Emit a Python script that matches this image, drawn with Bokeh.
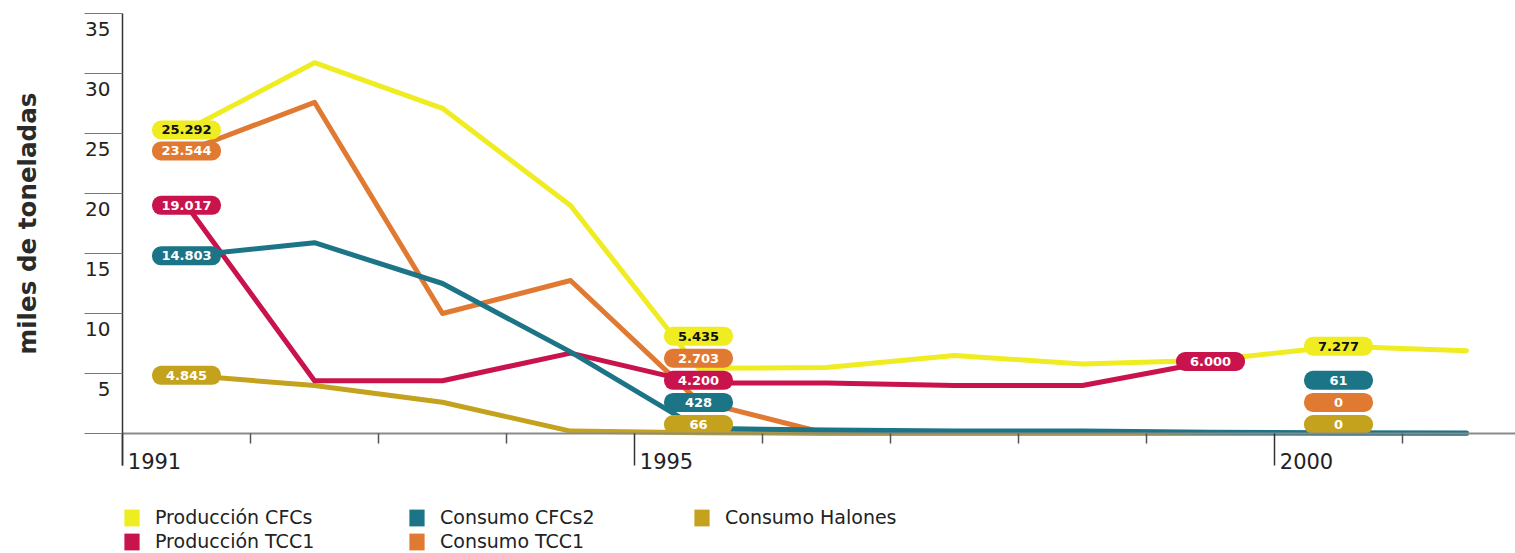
import math
from bokeh.plotting import figure
from bokeh.models import (Range1d, LinearAxis, FixedTicker, CustomJSTickFormatter,
                          Legend, LegendItem, ColumnDataSource, Label)
from bokeh.core.properties import value
from bokeh.embed import file_html
from bokeh.resources import INLINE

# ---------------- data (miles de toneladas) ----------------
years = [1991, 1992, 1993, 1994, 1995, 1996, 1997, 1998, 1999, 2000, 2001]
produccion_cfcs = [25.292, 30.9, 27.1, 19.0, 5.435, 5.5, 6.5, 5.8, 6.1, 7.277, 6.9]
produccion_tcc1 = [19.017, 4.4, 4.4, 6.7, 4.2, 4.2, 4.0, 4.0, 6.0, float("nan"), float("nan")]
consumo_cfcs2 = [14.803, 15.9, 12.5, 6.8, 0.428, 0.3, 0.2, 0.2, 0.1, 0.061, 0.05]
consumo_tcc1 = [23.544, 27.6, 10.0, 12.75, 2.703, 0.0, 0.0, 0.0, 0.0, 0.0, 0.0]
consumo_halones = [4.845, 4.0, 2.6, 0.2, 0.066, 0.0, 0.0, 0.0, 0.0, 0.0, 0.0]

series_names = ["Producción CFCs", "Producción TCC1", "Consumo CFCs2",
                "Consumo TCC1", "Consumo Halones"]
series_values = [produccion_cfcs, produccion_tcc1, consumo_cfcs2, consumo_tcc1, consumo_halones]
series_colors = ["#efec22", "#c8134c", "#1c7487", "#e07a32", "#c4a21e"]
label_text_colors = ["#111111", "white", "white", "white", "white"]

y_ticks = [0, 5, 10, 15, 20, 25, 30, 35]
x_label_years = [1991, 1995, 2000]
y_title = "miles de toneladas"

# value labels: (series index, year, stacking slot or None = at value)
value_labels = [
    (0, 1991, None), (3, 1991, None), (1, 1991, None), (2, 1991, None), (4, 1991, None),
    (0, 1995, 4), (3, 1995, 3), (1, 1995, 2), (2, 1995, 1), (4, 1995, 0),
    (1, 1999, None),
    (0, 2000, None), (2, 2000, 2), (3, 2000, 1), (4, 2000, 0),
]


def fmt_tonnes(v):
    n = int(round(v * 1000))
    return f"{n:,}".replace(",", ".")


# ---------------- figure (frame covers the whole canvas) ----------------
W, H = 1515, 553
PX_PER_YEAR = 128.0
PX_PER_UNIT = 12.0
AXIS_X = 122          # pixel column of the y axis line
TOP_PX = 13           # pixel row of the top (35) tick
y_top = y_ticks[-1]
x_start = years[0] - AXIS_X / PX_PER_YEAR
x_end = years[0] + (W - AXIS_X) / PX_PER_YEAR
y_max = y_top + TOP_PX / PX_PER_UNIT
y_min = y_top - (H - TOP_PX) / PX_PER_UNIT

p = figure(width=W, height=H, output_backend="svg", toolbar_location=None,
           x_range=Range1d(x_start, x_end), y_range=Range1d(y_min, y_max),
           x_axis_location=None, y_axis_location=None,
           min_border_left=0, min_border_right=0, min_border_top=0,
           min_border_bottom=0)
p.outline_line_color = None
p.xgrid.visible = False
p.ygrid.visible = False
p.background_fill_color = "white"
p.border_fill_color = "white"

FONT = "DejaVu Sans"
blank = CustomJSTickFormatter(code="return ''")

# y axis line + tick lines
ya = LinearAxis(fixed_location=years[0], bounds=(-32 / PX_PER_UNIT, y_top),
                ticker=FixedTicker(ticks=y_ticks), formatter=blank,
                major_tick_out=38, major_tick_in=0, minor_tick_out=0, minor_tick_in=0,
                major_label_standoff=0,
                axis_line_color="#333333", axis_line_width=1.5,
                major_tick_line_color="#777777", major_tick_line_width=1)
p.add_layout(ya, "left")

# y axis labels (sit just below their tick lines)
yb = LinearAxis(fixed_location=years[0],
                ticker=FixedTicker(ticks=[t - 1.25 for t in y_ticks[1:]]),
                formatter=CustomJSTickFormatter(code="return (tick + 1.25).toFixed(0)"),
                major_tick_out=0, major_tick_in=0, minor_tick_out=0, minor_tick_in=0,
                axis_line_color=None, major_label_standoff=12,
                major_label_text_font=FONT, major_label_text_font_size="20px",
                major_label_text_color="#222222")
p.add_layout(yb, "left")

# y axis title
p.add_layout(Label(x=x_start + 27 / PX_PER_YEAR, y=y_top / 2, text=y_title,
                   angle=math.pi / 2, text_align="center", text_baseline="middle",
                   text_font=FONT, text_font_style="bold", text_font_size="24.6px",
                   text_color="#2a2a2a"))

# x axis line + ticks
xa = LinearAxis(fixed_location=0, bounds=(years[0], x_end),
                ticker=FixedTicker(ticks=x_label_years,
                                   minor_ticks=[y for y in years if y not in x_label_years]),
                formatter=blank,
                major_tick_out=32, major_tick_in=0, minor_tick_out=10, minor_tick_in=0,
                axis_line_color="#8a8a8a", axis_line_width=2,
                major_tick_line_color="#333333", major_tick_line_width=1.5,
                minor_tick_line_color="#555555", minor_tick_line_width=1.5)
p.add_layout(xa, "below")

# x axis labels (to the right of the long ticks)
xb = LinearAxis(fixed_location=0,
                ticker=FixedTicker(ticks=[y + 0.25 for y in x_label_years]),
                formatter=CustomJSTickFormatter(code="return Math.floor(tick).toString()"),
                major_tick_out=0, major_tick_in=0, minor_tick_out=0, minor_tick_in=0,
                axis_line_color=None, major_label_standoff=19,
                major_label_text_font=FONT, major_label_text_font_size="21px",
                major_label_text_color="#222222")
p.add_layout(xb, "below")

# ---------------- lines ----------------
xs = [y + 0.5 for y in years]
draw_order = [3, 4, 1, 2, 0]
for i in draw_order:
    p.line(xs, series_values[i], line_color=series_colors[i], line_width=5,
           line_join="round", line_cap="round")

# ---------------- value labels ----------------
SLOT0, SLOT_STEP = 0.75, 1.84
lx, ly, lt, lf, ltc = [], [], [], [], []
for si, yr, slot in value_labels:
    v = series_values[si][years.index(yr)]
    lx.append(yr + 0.5)
    ly.append(v if slot is None else SLOT0 + slot * SLOT_STEP)
    lt.append(fmt_tonnes(v))
    lf.append(series_colors[si])
    ltc.append(label_text_colors[si])
src = ColumnDataSource(dict(x=lx, y=ly, text=lt, fill=lf, tc=ltc))
p.rect("x", "y", width=69, height=19, width_units="screen", height_units="screen",
       fill_color="fill", line_color=None, border_radius=9, source=src)
p.text("x", "y", text="text", text_color="tc", text_align="center",
       text_baseline="middle", text_font=value(FONT), text_font_style="bold",
       text_font_size="13px", source=src)

# ---------------- legend ----------------
nan = float("nan")
items = []
for name, c in zip(series_names, series_colors):
    r = p.quad(left=[nan], right=[nan], bottom=[nan], top=[nan],
               fill_color=c, line_color=None)
    items.append(LegendItem(label=name, renderers=[r]))
legend = Legend(items=items, location=(AXIS_X, 1),
                orientation="vertical", nrows=2,
                glyph_width=19, glyph_height=21, label_standoff=14, spacing=2,
                label_width=250, label_height=21, padding=0, margin=0,
                border_line_color=None, background_fill_alpha=0,
                label_text_font=FONT, label_text_font_size="19px",
                label_text_color="#222222")
p.add_layout(legend, "center")

open("out.html", "w").write(file_html(p, INLINE))
